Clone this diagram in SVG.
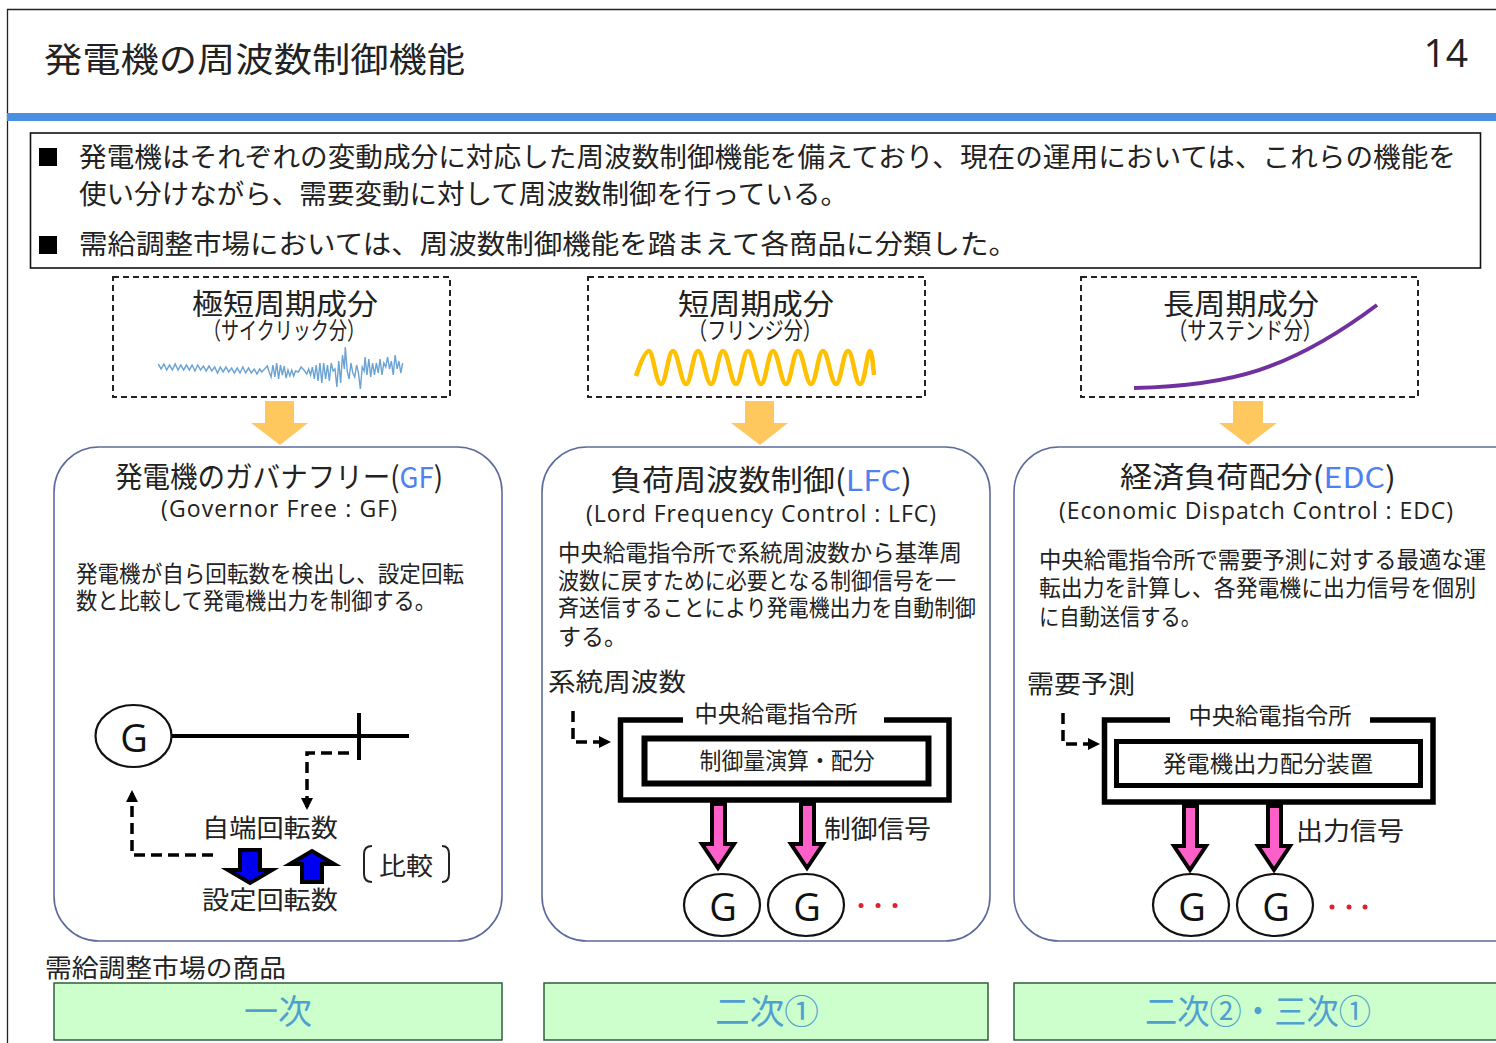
<svg xmlns="http://www.w3.org/2000/svg" width="1496" height="1043" viewBox="0 0 1496 1043">
<defs>
<marker id="ah" markerWidth="14" markerHeight="14" refX="9" refY="6" orient="auto" markerUnits="userSpaceOnUse"><path d="M0 0L12 6L0 12Z" fill="#000"/></marker>
</defs>
<style>
text{font-family:"Noto Sans CJK JP","Noto Sans",sans-serif;fill:#222;}
.lat{font-family:"Open Sans","Noto Sans CJK JP",sans-serif;}
.b{font-size:27px;}
.h{font-size:29px;}
.s{font-size:24px;}
.d{font-size:25px;}
.m{font-size:23px;}
.c{text-anchor:middle;}
.blue{fill:#4f7ff0;}
.dash{fill:none;stroke:#222;stroke-width:2;stroke-dasharray:6 4;}
.card{fill:#fff;stroke:#5c6b9c;stroke-width:1.6;}
.arrow{fill:#ffc85f;}
.goods{fill:#ccffcc;stroke:#2f5f3a;stroke-width:1.5;}
.gt{font-size:34px;fill:#4f9fd0;text-anchor:middle;}
.gen{fill:#fff;stroke:#111;stroke-width:2.2;}
.gl{font-family:"Open Sans",sans-serif;font-size:38px;fill:#111;text-anchor:middle;}
.sig{fill:#ff5fc8;stroke:#000;stroke-width:4;}
.bl{fill:#0000f0;stroke:#000;stroke-width:4;}
.dl{fill:none;stroke:#000;stroke-width:3.5;stroke-dasharray:11 6;}
.dot{fill:#e0202a;}
</style>
<rect width="1496" height="1043" fill="#fff"/>
<g id="frame">
<path d="M7.500 1043V9.500H1496" fill="none" stroke="#222" stroke-width="1.3"/>
<rect x="7" y="113" width="1489" height="8" fill="#4a90e2"/>
</g>
<g id="title">
<text x="44" y="72" font-size="34" textLength="421" lengthAdjust="spacingAndGlyphs">発電機の周波数制御機能</text>
<text x="1468" y="67" class="lat" font-size="39" text-anchor="end">14</text>
</g>
<g id="summary">
<rect x="30.500" y="133" width="1450" height="135" fill="#fff" stroke="#111" stroke-width="1.6"/>
<rect x="39" y="148" width="18" height="18" fill="#000"/>
<rect x="39" y="236" width="18" height="18" fill="#000"/>
<text x="79" y="167" class="b" textLength="1377" lengthAdjust="spacingAndGlyphs">発電機はそれぞれの変動成分に対応した周波数制御機能を備えており、現在の運用においては、これらの機能を</text>
<text x="79" y="204" class="b" textLength="769" lengthAdjust="spacingAndGlyphs">使い分けながら、需要変動に対して周波数制御を行っている。</text>
<text x="79" y="254" class="b" textLength="938" lengthAdjust="spacingAndGlyphs">需給調整市場においては、周波数制御機能を踏まえて各商品に分類した。</text>
</g>
<g id="comp-cyclic">
<rect class="dash" x="113" y="277" width="337" height="120"/>
<text x="285" y="315" class="h c" textLength="186" lengthAdjust="spacingAndGlyphs">極短周期成分</text>
<text x="284" y="339" class="s c" textLength="162" lengthAdjust="spacingAndGlyphs">（サイクリック分）</text>
<path transform="translate(8.800 -1) scale(.94 1)" d="M159 365l3 5 3-5 3 6 3-5 3 5 3-6 3 6 3-5 3 5 3-5 3 5 3-5 3 6 3-6 3 5 3-4 3 5 3-5 3 5 3-4 3 6 3-6 3 5 3-5 3 5 3-4 3 5 3-5 3 5 3-6 3 6 3-5 3 5 3-4 3 5 3-5 2 3 3-3 3-3 2 6 2 5 2-12 2 12 2-14 2 16 2-14 2 10 2-9 2 12 2-8 2 6 2-6 2 6 2-5 3 1 3-5 3 3 3 4 2-5 2 6 2-8 2 12 2-14 2 16 2-18 2 20 2-20 2 16 2-14 2 16 2-18 2 8 2-2 2 18 2-26 2 22 2-28 2 14 1-22 2 24 2 8 2-16 2 10 2 4 2-12 2 8 2 16 2-22 2 4 1-14 2 18 2-16 2 18 2-14 2 12 2-12 2 10 2-14 2 16 2-12 2 4 2-10 2 12 2-8 2 14 2-20 2 14 2-8 2 12 2-10" fill="none" stroke="#6ba3d2" stroke-width="1.5"/>
</g>
<g id="comp-fringe">
<rect class="dash" x="588" y="277" width="337" height="120"/>
<text x="756" y="315" class="h c" textLength="156" lengthAdjust="spacingAndGlyphs">短周期成分</text>
<text x="755" y="339" class="s c" textLength="134" lengthAdjust="spacingAndGlyphs">（フリンジ分）</text>
<path d="M636 376C642 358 646 351 649 351C653 351 656 384 661 384C666 384 668 351 673 351C678 351 681 384 686 384C691 384 693 351 698 351C703 351 706 384 711 384C716 384 718 351 723 351C728 351 731 384 736 384C741 384 743 351 748 351C753 351 756 384 761 384C766 384 768 351 773 351C778 351 781 384 786 384C791 384 793 351 798 351C803 351 806 384 811 384C816 384 818 351 823 351C828 351 831 384 836 384C841 384 843 351 848 351C853 351 855 384 860 384C865 384 867 351 870 351C872 351 873 365 874 375" fill="none" stroke="#ffc000" stroke-width="4.500"/>
</g>
<g id="comp-sustained">
<rect class="dash" x="1081" y="277" width="337" height="120"/>
<text x="1241" y="315" class="h c" textLength="156" lengthAdjust="spacingAndGlyphs">長周期成分</text>
<text x="1245" y="339" class="s c" textLength="154" lengthAdjust="spacingAndGlyphs">（サステンド分）</text>
<path d="M1134 388C1230 386 1290 370 1377 305" fill="none" stroke="#7030a0" stroke-width="4"/>
</g>
<g id="card-gf">
<rect class="card" x="54" y="447" width="448" height="494" rx="45"/>
<text x="279" y="488" class="h c" textLength="328" lengthAdjust="spacingAndGlyphs">発電機のガバナフリー(<tspan class="blue">GF</tspan>)</text>
<text x="279" y="517" class="lat c" font-size="23" textLength="236">(Governor Free : GF)</text>
<text x="76" y="582" class="m" textLength="388" lengthAdjust="spacingAndGlyphs">発電機が自ら回転数を検出し、設定回転</text>
<text x="76" y="609" class="m" textLength="360" lengthAdjust="spacingAndGlyphs">数と比較して発電機出力を制御する。</text>
<ellipse class="gen" cx="133.500" cy="736" rx="38" ry="31"/>
<text class="gl" x="134" y="752">G</text>
<path d="M172 736H409M359 713V760" fill="none" stroke="#000" stroke-width="4"/>
<text x="270" y="837" class="d c" textLength="136" lengthAdjust="spacingAndGlyphs">自端回転数</text>
<text x="270" y="909" class="d c" textLength="136" lengthAdjust="spacingAndGlyphs">設定回転数</text>
<path class="bl" d="M240 850H260V870H272L250 883L228 870H240Z"/>
<path class="bl" d="M302 882H322V864H334L312 851L290 864H302Z"/>
<path d="M372 846Q364 846 364 854V874Q364 882 372 882M442 846Q449 846 449 854V874Q449 882 442 882" fill="none" stroke="#222" stroke-width="2"/>
<text x="406" y="875" class="d c" textLength="54" lengthAdjust="spacingAndGlyphs">比較</text>
</g>
<g id="card-lfc">
<rect class="card" x="542" y="447" width="448" height="494" rx="45"/>
<text x="761" y="491" class="h c" textLength="302" lengthAdjust="spacingAndGlyphs">負荷周波数制御(<tspan class="blue">LFC</tspan>)</text>
<text x="761" y="522" class="lat c" font-size="23" textLength="350">(Lord Frequency Control : LFC)</text>
<text x="558" y="561" class="m" textLength="404" lengthAdjust="spacingAndGlyphs">中央給電指令所で系統周波数から基準周</text>
<text x="558" y="589" class="m" textLength="398" lengthAdjust="spacingAndGlyphs">波数に戻すために必要となる制御信号を一</text>
<text x="558" y="616" class="m" textLength="418" lengthAdjust="spacingAndGlyphs">斉送信することにより発電機出力を自動制御</text>
<text x="558" y="645" class="m">する。</text>
<text x="548" y="691" class="d" textLength="138" lengthAdjust="spacingAndGlyphs">系統周波数</text>
<text x="776" y="722" class="m c" textLength="163" lengthAdjust="spacingAndGlyphs">中央給電指令所</text>
<path d="M683 720H620.500V800H949V720H884" fill="none" stroke="#000" stroke-width="5.500"/>
<rect x="644.500" y="738.500" width="284" height="45" fill="none" stroke="#000" stroke-width="6"/>
<text x="787" y="769" class="m c" textLength="175" lengthAdjust="spacingAndGlyphs">制御量演算・配分</text>
<path class="sig" d="M712 804H725V844H734L718 868L702 844H712Z"/>
<path class="sig" d="M801 804H814V844H823L807 868L791 844H801Z"/>
<text x="824" y="838" class="d" textLength="107" lengthAdjust="spacingAndGlyphs">制御信号</text>
<ellipse class="gen" cx="722" cy="905" rx="38" ry="31"/>
<text class="gl" x="723" y="921">G</text>
<ellipse class="gen" cx="806" cy="905" rx="38" ry="31"/>
<text class="gl" x="807" y="921">G</text>
<circle class="dot" cx="861" cy="905.500" r="2.500"/><circle class="dot" cx="878" cy="905.500" r="2.500"/><circle class="dot" cx="895" cy="905.500" r="2.500"/>
</g>
<g id="card-edc">
<path class="card" d="M1500 447H1059A45 45 0 0 0 1014 492V896A45 45 0 0 0 1059 941H1500Z"/>
<text x="1258" y="488" class="h c" textLength="276" lengthAdjust="spacingAndGlyphs">経済負荷配分(<tspan class="blue">EDC</tspan>)</text>
<text x="1256" y="519" class="lat c" font-size="23" textLength="394">(Economic Dispatch Control : EDC)</text>
<text x="1039" y="568" class="m" textLength="447" lengthAdjust="spacingAndGlyphs">中央給電指令所で需要予測に対する最適な運</text>
<text x="1039" y="596" class="m" textLength="437" lengthAdjust="spacingAndGlyphs">転出力を計算し、各発電機に出力信号を個別</text>
<text x="1039" y="625" class="m" textLength="162" lengthAdjust="spacingAndGlyphs">に自動送信する。</text>
<text x="1027" y="693" class="d" textLength="108" lengthAdjust="spacingAndGlyphs">需要予測</text>
<text x="1270" y="724" class="m c" textLength="163" lengthAdjust="spacingAndGlyphs">中央給電指令所</text>
<path d="M1170 720H1104.500V802H1433V720H1370" fill="none" stroke="#000" stroke-width="5.500"/>
<rect x="1116.500" y="741.500" width="304" height="44" fill="none" stroke="#000" stroke-width="5"/>
<text x="1268" y="772" class="m c" textLength="210" lengthAdjust="spacingAndGlyphs">発電機出力配分装置</text>
<path class="sig" d="M1184 806H1197V846H1206L1190 870L1174 846H1184Z"/>
<path class="sig" d="M1268 806H1281V846H1290L1274 870L1258 846H1268Z"/>
<text x="1296" y="840" class="d" textLength="108" lengthAdjust="spacingAndGlyphs">出力信号</text>
<ellipse class="gen" cx="1191" cy="905" rx="38" ry="31"/>
<text class="gl" x="1192" y="921">G</text>
<ellipse class="gen" cx="1275" cy="905" rx="38" ry="31"/>
<text class="gl" x="1276" y="921">G</text>
<circle class="dot" cx="1332" cy="907" r="2.500"/><circle class="dot" cx="1349" cy="907" r="2.500"/><circle class="dot" cx="1365" cy="907" r="2.500"/>
</g>
<g id="connectors">
<path class="arrow" d="M265 401H294V423H308L280 445L251 423H265Z"/>
<path class="arrow" d="M745 401H774V423H788L760 445L731 423H745Z"/>
<path class="arrow" d="M1233 401H1263V423H1277L1248 445L1219 423H1233Z"/>
<path class="dl" d="M349 753H307V807" marker-end="url(#ah)"/>
<path class="dl" d="M213 855H132V793" marker-end="url(#ah)"/>
<path class="dl" d="M573 711V742H608" marker-end="url(#ah)"/>
<path class="dl" d="M1063 713V744H1097" marker-end="url(#ah)"/>
</g>
<g id="products">
<text x="45" y="977" class="d" textLength="241" lengthAdjust="spacingAndGlyphs">需給調整市場の商品</text>
<rect class="goods" x="54" y="983" width="448" height="57"/>
<text x="278" y="1024" class="gt">一次</text>
<rect class="goods" x="544" y="983" width="444" height="57"/>
<text x="767" y="1024" class="gt" textLength="104" lengthAdjust="spacingAndGlyphs">二次①</text>
<rect class="goods" x="1014" y="983" width="486" height="57"/>
<text x="1258" y="1024" class="gt" textLength="226" lengthAdjust="spacingAndGlyphs">二次②・三次①</text>
</g>
</svg>
